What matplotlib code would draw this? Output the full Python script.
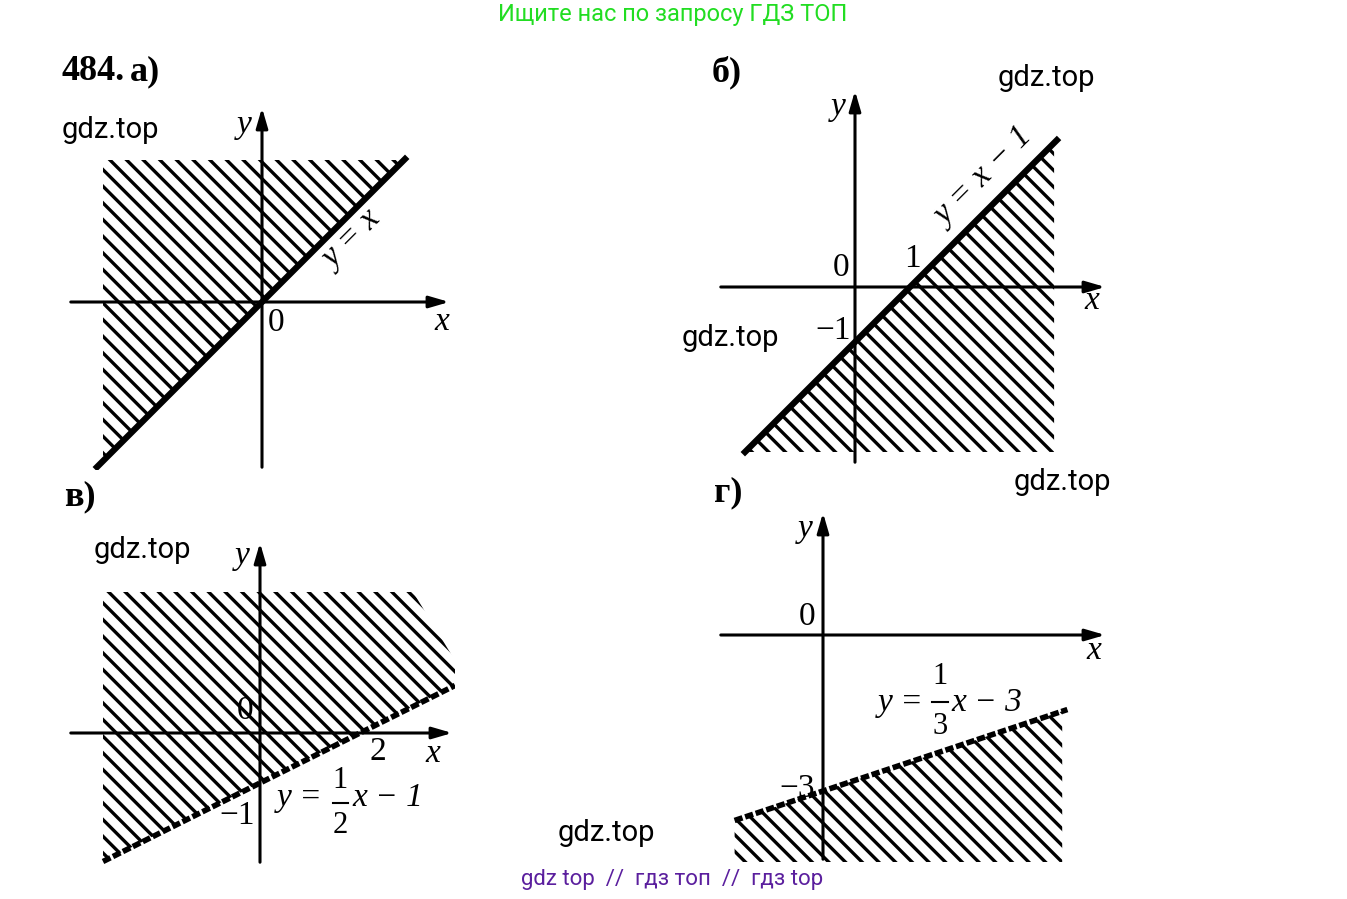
import numpy as np
import matplotlib.pyplot as plt
from matplotlib.patches import Polygon

W, H = 1347, 899

# panel data: line coefficients y = k*x + b, in units
a_k, a_b = 1.0, 0.0
b_k, b_b = 1.0, -1.0
v_k, v_b = 0.5, -1.0
g_k, g_b = 1 / 3, -3.0

plt.rcParams['hatch.linewidth'] = 2.4
plt.rcParams['font.family'] = ['Liberation Serif', 'DejaVu Serif']

fig = plt.figure(figsize=(W / 100, H / 100), dpi=100)
fig.patch.set_facecolor('white')


def panel(px0, px1, py0, py1, ox, oy, unit):
    # axes placed by pixel box, limits so that origin lands on (ox, oy)
    ax = fig.add_axes([px0 / W, 1 - py1 / H, (px1 - px0) / W, (py1 - py0) / H])
    ax.set_xlim((px0 - ox) / unit, (px1 - ox) / unit)
    ax.set_ylim((oy - py1) / unit, (oy - py0) / unit)
    ax.axis('off')
    xl, yl = ax.get_xlim(), ax.get_ylim()
    arrow = dict(arrowstyle='-|>,head_length=1.2,head_width=0.35', lw=2.2, color='black')
    ax.annotate('', xy=(xl[1], 0), xytext=(xl[0], 0), arrowprops=arrow)
    ax.annotate('', xy=(0, yl[1]), xytext=(0, yl[0]), arrowprops=arrow)
    return ax


def hatch(ax, pts):
    ax.add_patch(Polygon(pts, closed=True, fill=False, hatch='\\\\', lw=0, edgecolor='black'))


def lbl(ax, x, y, s, size=24, **kw):
    ax.text(x, y, s, fontsize=size, ha='center', va='center', **kw)


# а)
u = 50
ax = panel(68, 452, 105, 470, 262, 302, u)
xs = np.array([-3.3, 2.86])
x0, top = -3.18, 2.84
hatch(ax, [(x0, a_k * x0 + a_b), (top, top), (x0, top)])
ax.plot(xs, a_k * xs + a_b, color='black', lw=4.5)
lbl(ax, 0.28, -0.42, '0')
lbl(ax, 3.6, -0.4, 'x', style='italic')
lbl(ax, -0.35, 3.55, 'y', style='italic')
lbl(ax, 1.8, 1.25, 'y = x', rotation=45, style='italic')

# б)
u = 55
ax = panel(718, 1108, 88, 465, 855, 287, u)
x0, x1, bot = -2.0, 3.62, -3.0
hatch(ax, [(x0, b_k * x0 + b_b), (x1, b_k * x1 + b_b), (x1, bot)])
xs = np.array([-2.0, 3.67])
ax.plot(xs, b_k * xs + b_b, color='black', lw=4.5)
lbl(ax, -0.25, 0.35, '0')
lbl(ax, 1.05, 0.52, '1')
lbl(ax, -0.4, -0.8, '−1')
lbl(ax, 4.3, -0.25, 'x', style='italic')
lbl(ax, -0.3, 3.27, 'y', style='italic')
lbl(ax, 2.35, 2.0, 'y = x − 1', rotation=45, style='italic')

# в)
u = 50
ax = panel(68, 455, 540, 865, 260, 733, u)
x0, x1, top = -3.14, 3.9, 2.82
hatch(ax, [(x0, v_k * x0 + v_b), (x1, v_k * x1 + v_b), (x1, 1.45), (3.06, top), (x0, top)])
xs = np.array([-3.14, 3.9])
ax.plot(xs, v_k * xs + v_b, color='black', lw=4, ls=(0, (1.5, 0.5)))
lbl(ax, -0.3, 0.45, '0')
lbl(ax, 2.35, -0.38, '2')
lbl(ax, -0.45, -1.65, '−1')
lbl(ax, 3.45, -0.42, 'x', style='italic')
lbl(ax, -0.35, 3.55, 'y', style='italic')
lbl(ax, 0.8, -1.3, 'y =', style='italic')
lbl(ax, 1.6, -0.95, '1', size=22)
lbl(ax, 1.6, -1.85, '2', size=22)
ax.plot([1.45, 1.75], [-1.4, -1.4], color='black', lw=1.5)
lbl(ax, 2.55, -1.3, 'x − 1', style='italic')

# г)
u = 52
ax = panel(718, 1108, 510, 862, 823, 635, u)
x0, x1, bot = -1.7, 4.6, -4.4
hatch(ax, [(x0, g_k * x0 + g_b), (x1, g_k * x1 + g_b), (x1, bot), (x0, bot)])
xs = np.array([-1.7, 4.7])
ax.plot(xs, g_k * xs + g_b, color='black', lw=4, ls=(0, (1.5, 0.5)))
lbl(ax, -0.3, 0.35, '0')
lbl(ax, -0.5, -2.95, '−3')
lbl(ax, 5.2, -0.3, 'x', style='italic')
lbl(ax, -0.35, 2.05, 'y', style='italic')
lbl(ax, 1.5, -1.3, 'y =', style='italic')
lbl(ax, 2.25, -0.8, '1', size=22)
lbl(ax, 2.25, -1.75, '3', size=22)
ax.plot([2.1, 2.4], [-1.28, -1.28], color='black', lw=1.5)
lbl(ax, 3.15, -1.3, 'x − 3', style='italic')

# panel titles
fig.text(62 / W, 1 - 72 / H, '484.', fontsize=26, fontweight='bold', va='center')
fig.text(130 / W, 1 - 72 / H, 'а)', fontsize=26, fontweight='bold', va='center')
fig.text(712 / W, 1 - 72 / H, 'б)', fontsize=26, fontweight='bold', va='center')
fig.text(64 / W, 1 - 497 / H, 'в)', fontsize=26, fontweight='bold', va='center')
fig.text(714 / W, 1 - 493 / H, 'г)', fontsize=26, fontweight='bold', va='center')

# watermarks
for x, y in [(110, 130), (1046, 78), (730, 338), (1062, 482), (142, 550), (606, 833)]:
    fig.text(x / W, 1 - y / H, 'gdz.top', fontsize=21, ha='center', va='center', family='Roboto')
fig.text(673 / W, 1 - 14 / H, 'Ищите нас по запросу ГДЗ ТОП', fontsize=17, ha='center',
         va='center', color='#22dd22', family='Roboto')
fig.text(672 / W, 1 - 880 / H, 'gdz top  //  гдз топ  //  гдз top', fontsize=16, ha='center',
         va='center', color='#5b1f9e', family='Roboto')

fig.savefig('out.png', dpi=100, facecolor='white')
